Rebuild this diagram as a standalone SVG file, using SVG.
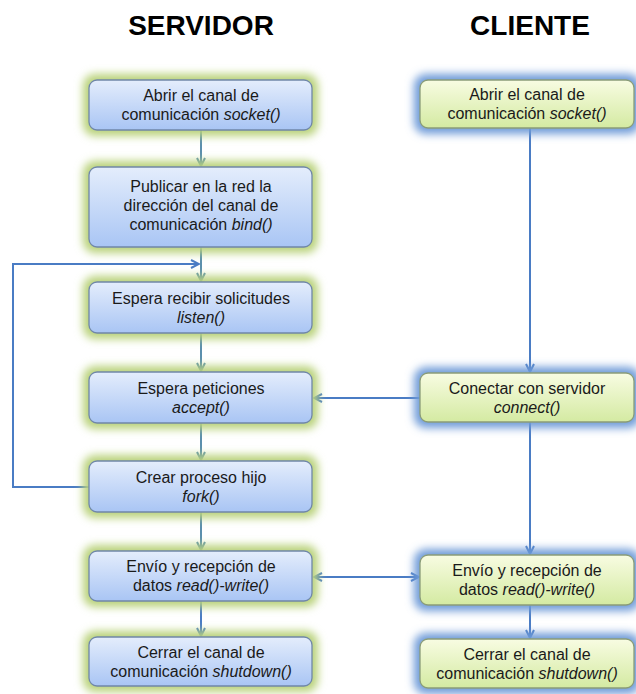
<svg xmlns="http://www.w3.org/2000/svg" width="636" height="694" viewBox="0 0 636 694">
  <defs>
    <linearGradient id="gradSrv" x1="0" y1="0" x2="0" y2="1">
      <stop offset="0" stop-color="#e4edfc"/>
      <stop offset="1" stop-color="#a9c5f4"/>
    </linearGradient>
    <linearGradient id="gradCli" x1="0" y1="0" x2="0" y2="1">
      <stop offset="0" stop-color="#f8fce2"/>
      <stop offset="1" stop-color="#d4eaa2"/>
    </linearGradient>
    <filter id="glow" x="-20%" y="-40%" width="140%" height="180%">
      <feGaussianBlur stdDeviation="4.5"/>
    </filter>
    <marker id="headSrv" viewBox="0 0 10 10" refX="9" refY="5" markerWidth="10" markerHeight="10" markerUnits="userSpaceOnUse" orient="auto">
      <path d="M1,1 L9,5 L1,9" fill="none" stroke="#5b8fad" stroke-width="2"/>
    </marker>
    <marker id="headCli" viewBox="0 0 10 10" refX="9" refY="5" markerWidth="10" markerHeight="10" markerUnits="userSpaceOnUse" orient="auto">
      <path d="M1,1 L9,5 L1,9" fill="none" stroke="#4a7cc4" stroke-width="2"/>
    </marker>
    <marker id="tailCli" viewBox="0 0 10 10" refX="9" refY="5" markerWidth="10" markerHeight="10" markerUnits="userSpaceOnUse" orient="auto-start-reverse">
      <path d="M1,1 L9,5 L1,9" fill="none" stroke="#4a7cc4" stroke-width="2"/>
    </marker>
  </defs>
  <style>
    .title { font-family: "Liberation Sans", Arial, sans-serif; font-weight: bold; font-size: 28px; fill: #000; text-anchor: middle; }
    .lbl { font-family: "Liberation Sans", Arial, sans-serif; font-size: 16px; fill: #1a1a1a; text-anchor: middle; }
    .fn { font-style: italic; }
    .glowSrv { fill: #b9d27a; filter: url(#glow); }
    .glowCli { fill: #6f9bd8; filter: url(#glow); }
    .boxSrv { fill: url(#gradSrv); stroke: #7087a8; stroke-width: 1.3; }
    .boxCli { fill: url(#gradCli); stroke: #8a9c78; stroke-width: 1.3; }
    .conSrv { fill: none; stroke: #5b8fad; stroke-width: 2; marker-end: url(#headSrv); }
    .conCli { fill: none; stroke: #4a7cc4; stroke-width: 2; marker-end: url(#headCli); }
  </style>

  <rect width="636" height="694" fill="#ffffff"/>

  <!-- column headings -->
  <text class="title" x="201" y="35">SERVIDOR</text>
  <text class="title" x="530" y="35">CLIENTE</text>

  <!-- connectors -->
  <g id="connectors">
    <line class="conSrv" x1="201" y1="130" x2="201" y2="166"/>
    <line class="conSrv" x1="201" y1="247" x2="201" y2="281"/>
    <line class="conSrv" x1="201" y1="333" x2="201" y2="371"/>
    <line class="conSrv" x1="201" y1="423" x2="201" y2="460"/>
    <line class="conSrv" x1="201" y1="512" x2="201" y2="550"/>
    <line class="conCli" x1="201" y1="601" x2="201" y2="636"/>
    <path class="conCli" d="M89,487 H13 V264 H199"/>
    <line class="conCli" x1="530" y1="128" x2="530" y2="372"/>
    <line class="conCli" x1="530" y1="422" x2="530" y2="554"/>
    <line class="conCli" x1="530" y1="605" x2="530" y2="638"/>
    <line class="conCli" x1="420" y1="398" x2="314" y2="398"/>
    <line class="conCli" x1="314" y1="577" x2="419" y2="577" marker-start="url(#tailCli)"/>
  </g>

  <!-- server nodes -->
  <g id="srv-socket">
    <rect class="glowSrv" x="83" y="74" width="235" height="62" rx="12"/>
    <rect class="boxSrv" x="89" y="80" width="223" height="50" rx="8"/>
    <text class="lbl" x="201" y="101">Abrir el canal de</text>
    <text class="lbl" x="201" y="120">comunicación <tspan class="fn">socket()</tspan></text>
  </g>
  <g id="srv-bind">
    <rect class="glowSrv" x="83" y="161" width="235" height="92" rx="12"/>
    <rect class="boxSrv" x="89" y="167" width="223" height="80" rx="8"/>
    <text class="lbl" x="201" y="192">Publicar en la red la</text>
    <text class="lbl" x="201" y="211">dirección del canal de</text>
    <text class="lbl" x="201" y="230">comunicación <tspan class="fn">bind()</tspan></text>
  </g>
  <g id="srv-listen">
    <rect class="glowSrv" x="83" y="276" width="235" height="63" rx="12"/>
    <rect class="boxSrv" x="89" y="282" width="223" height="51" rx="8"/>
    <text class="lbl" x="201" y="304">Espera recibir solicitudes</text>
    <text class="lbl" x="201" y="323"><tspan class="fn">listen()</tspan></text>
  </g>
  <g id="srv-accept">
    <rect class="glowSrv" x="83" y="366" width="235" height="63" rx="12"/>
    <rect class="boxSrv" x="89" y="372" width="223" height="51" rx="8"/>
    <text class="lbl" x="201" y="394">Espera peticiones</text>
    <text class="lbl" x="201" y="413"><tspan class="fn">accept()</tspan></text>
  </g>
  <g id="srv-fork">
    <rect class="glowSrv" x="83" y="455" width="235" height="63" rx="12"/>
    <rect class="boxSrv" x="89" y="461" width="223" height="51" rx="8"/>
    <text class="lbl" x="201" y="483">Crear proceso hijo</text>
    <text class="lbl" x="201" y="502"><tspan class="fn">fork()</tspan></text>
  </g>
  <g id="srv-readwrite">
    <rect class="glowSrv" x="83" y="545" width="235" height="62" rx="12"/>
    <rect class="boxSrv" x="89" y="551" width="223" height="50" rx="8"/>
    <text class="lbl" x="201" y="572">Envío y recepción de</text>
    <text class="lbl" x="201" y="591">datos <tspan class="fn">read()-write()</tspan></text>
  </g>
  <g id="srv-shutdown">
    <rect class="glowSrv" x="83" y="631" width="235" height="61" rx="12"/>
    <rect class="boxSrv" x="89" y="637" width="223" height="49" rx="8"/>
    <text class="lbl" x="201" y="658">Cerrar el canal de</text>
    <text class="lbl" x="201" y="677">comunicación <tspan class="fn">shutdown()</tspan></text>
  </g>

  <!-- client nodes -->
  <g id="cli-socket">
    <rect class="glowCli" x="414" y="74" width="226" height="60" rx="12"/>
    <rect class="boxCli" x="420" y="80" width="214" height="48" rx="8"/>
    <text class="lbl" x="527" y="100">Abrir el canal de</text>
    <text class="lbl" x="527" y="119">comunicación <tspan class="fn">socket()</tspan></text>
  </g>
  <g id="cli-connect">
    <rect class="glowCli" x="414" y="367" width="226" height="61" rx="12"/>
    <rect class="boxCli" x="420" y="373" width="214" height="49" rx="8"/>
    <text class="lbl" x="527" y="394">Conectar con servidor</text>
    <text class="lbl" x="527" y="413"><tspan class="fn">connect()</tspan></text>
  </g>
  <g id="cli-readwrite">
    <rect class="glowCli" x="414" y="549" width="226" height="62" rx="12"/>
    <rect class="boxCli" x="420" y="555" width="214" height="50" rx="8"/>
    <text class="lbl" x="527" y="576">Envío y recepción de</text>
    <text class="lbl" x="527" y="595">datos <tspan class="fn">read()-write()</tspan></text>
  </g>
  <g id="cli-shutdown">
    <rect class="glowCli" x="414" y="633" width="226" height="61" rx="12"/>
    <rect class="boxCli" x="420" y="639" width="214" height="49" rx="8"/>
    <text class="lbl" x="527" y="660">Cerrar el canal de</text>
    <text class="lbl" x="527" y="679">comunicación <tspan class="fn">shutdown()</tspan></text>
  </g>
</svg>
